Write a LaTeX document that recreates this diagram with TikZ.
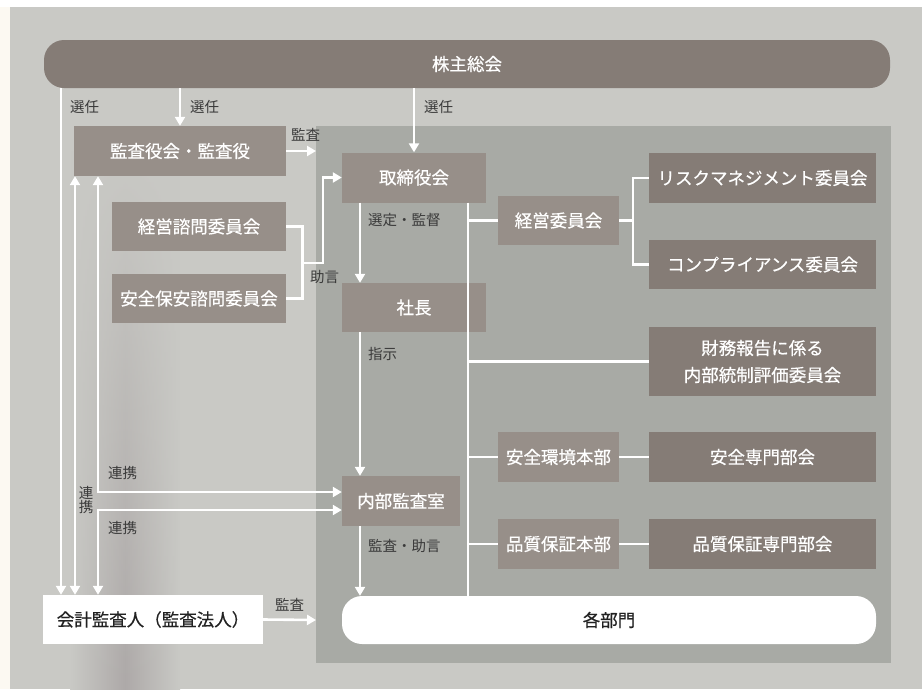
\documentclass[tikz,border=0pt]{standalone}
\usepackage{fontspec}
\setmainfont{Noto Sans CJK JP}
\newfontfamily\jpm[FakeBold=0.5]{Noto Sans CJK JP}
\usetikzlibrary{arrows.meta,fadings}
\definecolor{bgpanel}{HTML}{C9C9C5}
\definecolor{bgdark}{HTML}{ADA9A8}
\definecolor{innerpanel}{HTML}{A8AAA5}
\definecolor{boxlight}{HTML}{978F89}
\definecolor{boxdark}{HTML}{857C76}
\definecolor{lbl}{HTML}{3A3A3A}
\definecolor{cream}{HTML}{FCF9F2}
\definecolor{ink}{HTML}{222222}
\begin{document}
\begin{tikzpicture}[x=1pt,y=-1pt,
  box/.style={rectangle, inner sep=0pt, text=white, font=\jpm\fontsize{17.5}{27}\selectfont, align=center},
  lightbox/.style={box, fill=boxlight},
  darkbox/.style={box, fill=boxdark},
  whitebox/.style={box, fill=white, text=ink},
  conn/.style={draw=white, line width=2.6pt},
  arr/.style={conn, -{Triangle[width=10pt,length=9pt]}},
  both/.style={conn, {Triangle[width=10pt,length=9pt]}-{Triangle[width=10pt,length=9pt]}},
  lab/.style={text=lbl, font=\fontsize{14.5}{16}\selectfont, inner sep=0pt, anchor=west},
]
\useasboundingbox (0,0) rectangle (922,689);
% background
\fill[cream] (0,0) rectangle (922,689);
\fill[white] (0,0) rectangle (922,7);
\fill[bgpanel] (10,7) rectangle (922,689);
\shade[left color=bgpanel, right color=bgpanel, middle color=bgdark, path fading=north] (70,150) rectangle (180,689);
\fill[innerpanel] (316,126) rectangle (891,663);

% coordinates
\coordinate (c61) at (61,0);
\coordinate (c75) at (75,0);
\coordinate (c98) at (98,0);
\coordinate (c360) at (360,0);
\coordinate (c468) at (468,0);
\coordinate (p1) at (316,151);
\coordinate (p2) at (316,620);

% nodes
\node[box, fill=boxdark, rounded corners=20pt, minimum width=846pt, minimum height=48pt] (kabu) at (467,64) {株主総会};
\node[lightbox, minimum width=212pt, minimum height=50pt] (kansa) at (180,151) {監査役会・監査役};
\node[lightbox, minimum width=144pt, minimum height=50pt] (tori) at (414,177.5) {取締役会};
\node[lightbox, minimum width=174pt, minimum height=49pt] (keieishimon) at (199,226.5) {経営諮問委員会};
\node[lightbox, minimum width=174pt, minimum height=49pt] (anzen) at (199,298.5) {安全保安諮問委員会};
\node[lightbox, minimum width=144pt, minimum height=49pt] (shacho) at (414,307.5) {社長};
\node[lightbox, minimum width=121pt, minimum height=49pt] (keiei) at (558.5,220.5) {経営委員会};
\node[darkbox, minimum width=227pt, minimum height=50pt] (risk) at (762.5,178) {リスクマネジメント委員会};
\node[darkbox, minimum width=227pt, minimum height=49pt] (comp) at (762.5,264.5) {コンプライアンス委員会};
\node[darkbox, minimum width=227pt, minimum height=69pt] (zaimu) at (762.5,361.5) {財務報告に係る\\内部統制評価委員会};
\node[lightbox, minimum width=121pt, minimum height=50pt] (anzenhon) at (558.5,457) {安全環境本部};
\node[darkbox, minimum width=227pt, minimum height=50pt] (anzensen) at (762.5,457) {安全専門部会};
\node[lightbox, minimum width=121pt, minimum height=50pt] (hinshitsu) at (558.5,544) {品質保証本部};
\node[darkbox, minimum width=227pt, minimum height=50pt] (hinsen) at (762.5,544) {品質保証専門部会};
\node[lightbox, minimum width=118pt, minimum height=50pt] (naibu) at (401,501) {内部監査室};
\node[whitebox, rounded corners=20pt, minimum width=534pt, minimum height=48pt] (kakubu) at (609,620) {各部門};
\node[whitebox, minimum width=220pt, minimum height=49pt] (kaikei) at (153,619.5) {会計監査人（監査法人）};

% connectors
\draw[arr] (kabu.south -| kansa.north) -- (kansa.north);
\draw[arr] (kabu.south -| tori.north) -- (tori.north);
\draw[arr] (kabu.south -| c61) -- (kaikei.north -| c61);
\draw[both] (kansa.south -| c75) -- (kaikei.north -| c75);
\draw[both] (kansa.south -| c98) |- ([yshift=9pt]naibu.west);
\draw[both] (kaikei.north -| c98) |- ([yshift=-9pt]naibu.west);
\draw[arr] (kansa.east) -- (p1);
\draw[arr] (kaikei.east) -- (p2);
\draw[conn] (keieishimon.east) -- ++(16,0) |- (anzen.east);
\coordinate (jn) at (302,263);
\draw[arr] (jn) -- ++(21,0) |- (tori.west);
\draw[arr] (tori.south -| c360) -- (shacho.north -| c360);
\draw[arr] (shacho.south -| c360) -- (naibu.north -| c360);
\draw[arr] (naibu.south -| c360) -- (kakubu.north -| c360);
\draw[conn] (tori.south -| c468) -- (kakubu.north -| c468);
\draw[conn] (keiei.west -| c468) -- (keiei.west);
\draw[conn] (zaimu.west -| c468) -- (zaimu.west);
\draw[conn] (anzenhon.west -| c468) -- (anzenhon.west);
\draw[conn] (hinshitsu.west -| c468) -- (hinshitsu.west);
\draw[conn] (anzenhon.east) -- (anzensen.west);
\draw[conn] (hinshitsu.east) -- (hinsen.west);
\draw[conn] (keiei.east) -- ++(15,0);
\draw[conn] (risk.west) -- ++(-16,0) |- (comp.west);

% labels
\node[lab] (l1) at (70,107) {選任};
\node[lab] (l2) at (190,107) {選任};
\node[lab] (l3) at (424,107) {選任};
\node[lab] (l4) at (291,135) {監査};
\node[lab] (l5) at (368,220) {選定・監督};
\node[lab] (l6) at (310,277) {助言};
\node[lab] (l7) at (368,354) {指示};
\node[lab] (l8) at (368,546) {監査・助言};
\node[lab] (l9) at (108,473) {連携};
\node[lab] (l10) at (108,528) {連携};
\node[lab, anchor=center, align=center, font=\fontsize{14.5}{14.5}\selectfont] (l11) at (86,500) {連\\携};
\node[lab] (l12) at (275,605) {監査};
\end{tikzpicture}
\end{document}
